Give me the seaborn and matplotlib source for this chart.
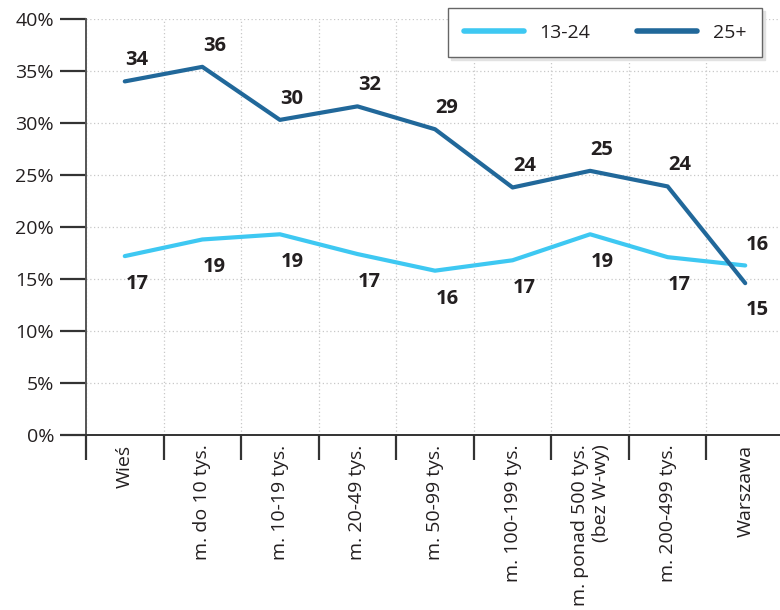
import matplotlib
matplotlib.use("Agg")
import matplotlib.pyplot as plt
import seaborn as sns
import pandas as pd
import numpy as np
from matplotlib.ticker import FixedLocator, FuncFormatter
from matplotlib.lines import Line2D

categories = ["Wieś", "m. do 10 tys.", "m. 10-19 tys.", "m. 20-49 tys.", "m. 50-99 tys.",
              "m. 100-199 tys.", "m. ponad 500 tys.\n(bez W-wy)", "m. 200-499 tys.", "Warszawa"]
young = [17.2, 18.8, 19.3, 17.4, 15.8, 16.8, 19.3, 17.1, 16.3]
adult = [34.0, 35.4, 30.3, 31.6, 29.4, 23.8, 25.4, 23.9, 14.6]
young_labels = ["17", "19", "19", "17", "16", "17", "19", "17", "16"]
adult_labels = ["34", "36", "30", "32", "29", "24", "25", "24", "15"]
series_names = ["13-24", "25+"]
colors = ["#3ec8f2", "#21689a"]

sns.set_theme(style="white")
plt.rcParams["font.family"] = ["Open Sans", "DejaVu Sans"]
text_col = "#231f20"

df = pd.DataFrame({
    "x": list(range(len(categories))) * 2,
    "value": young + adult,
    "series": [series_names[0]] * len(categories) + [series_names[1]] * len(categories),
})

fig = plt.figure(figsize=(7.8, 6.1), dpi=100)
ax = fig.add_axes([86 / 780, (610 - 435) / 610, 698 / 780, (435 - 19) / 610])

sns.lineplot(data=df, x="x", y="value", hue="series", palette=colors, linewidth=3.0,
             ax=ax, legend=False, solid_capstyle="round")

ax.set_xlim(-0.5, len(categories) - 0.5)
ax.set_ylim(0, 40)
ax.set_xlabel("")
ax.set_ylabel("")

# y axis
ax.yaxis.set_major_locator(FixedLocator(np.arange(0, 41, 5)))
ax.yaxis.set_major_formatter(FuncFormatter(lambda v, p: f"{int(v)}%"))
ax.tick_params(axis="y", which="major", length=19, width=1.6, color="#333333",
               labelsize=14, labelcolor=text_col, pad=4, left=True)

# x axis: labels at centers, ticks at boundaries
ax.set_xticks(range(len(categories)))
ax.set_xticklabels(categories, rotation=90, fontsize=14, color=text_col,
                   va="top", ha="center", multialignment="right")
ax.tick_params(axis="x", which="major", length=0, pad=7)
ax.xaxis.set_minor_locator(FixedLocator(np.arange(-0.5, len(categories) + 0.5, 1)))
ax.tick_params(axis="x", which="minor", length=18, width=1.6, color="#333333", bottom=True)

# grid
ax.grid(axis="y", which="major", linestyle=(0, (1, 2)), color="#c8c8c8", linewidth=0.9)
ax.grid(axis="x", which="minor", linestyle=(0, (1, 2)), color="#c8c8c8", linewidth=0.9)
ax.grid(axis="x", which="major", visible=False)

for s in ["top", "right"]:
    ax.spines[s].set_visible(False)
ax.spines["left"].set_color("#555555")
ax.spines["left"].set_linewidth(1.4)
ax.spines["bottom"].set_color("#333333")
ax.spines["bottom"].set_linewidth(1.4)

# value labels
for i in range(len(categories)):
    a_above = adult[i] >= young[i]
    ax.annotate(adult_labels[i], (i, adult[i]), xytext=(12, 21 if a_above else -27),
                textcoords="offset pixels", ha="center", va="center",
                fontsize=14.5, fontweight="bold", color=text_col)
    ax.annotate(young_labels[i], (i, young[i]), xytext=(12, -28 if a_above else 20),
                textcoords="offset pixels", ha="center", va="center",
                fontsize=14.5, fontweight="bold", color=text_col)

# legend
handles = [Line2D([0], [0], color=c, linewidth=4, solid_capstyle="round") for c in colors]
leg = fig.legend(handles, series_names, loc="upper right", bbox_to_anchor=(762 / 780, 1 - 8 / 610),
                 ncol=2, fontsize=14, frameon=True, fancybox=False,
                 shadow={"ox": 2, "oy": -2, "color": "#e2e2e2", "alpha": 1.0},
                 handlelength=3.1, columnspacing=2.4, borderpad=0.8, handletextpad=0.8,
                 borderaxespad=0, labelcolor=text_col)
leg.get_frame().set_edgecolor("#666666")
leg.get_frame().set_linewidth(1.0)

fig.savefig("out.png", dpi=100)
